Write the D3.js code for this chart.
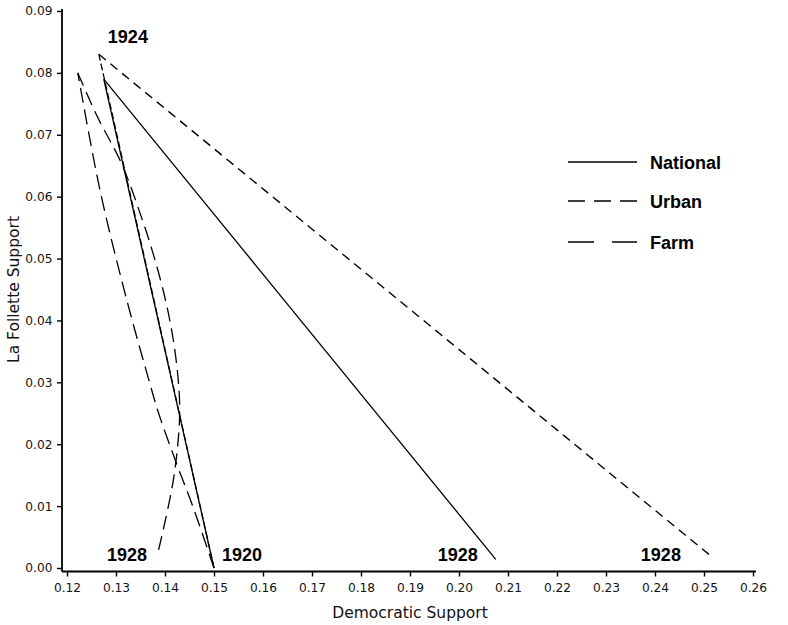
<!DOCTYPE html>
<html>
<head>
<meta charset="utf-8">
<script src="https://cdn.jsdelivr.net/npm/d3@7"></script>
<style>
  html, body { margin: 0; padding: 0; background: #fff; }
  svg { display: block; }
  .tick text { font-family: "DejaVu Sans", sans-serif; font-size: 12.2px; fill: #111; }
  .axis-title { font-family: "DejaVu Sans", sans-serif; font-size: 15.5px; fill: #111; }
  .year, .legend-label { font-family: "Liberation Sans", Arial, sans-serif; font-weight: bold; font-size: 18px; fill: #000; }
</style>
</head>
<body>
<svg id="chart" width="788" height="625"></svg>
<script>
// Election years and the Democratic / La Follette shares for each group
const years = [1920, 1924, 1928];
const nationalDem = [0.150, 0.1275, 0.2075];
const nationalLaF = [0.000, 0.0790, 0.0014];
const urbanDem = [0.150, 0.1265, 0.2510];
const urbanLaF = [0.000, 0.0830, 0.0022];
const farmDem = [0.150, 0.1222, 0.1386];
const farmLaF = [0.000, 0.0800, 0.0026];

// The farm path bends between elections; intermediate positions along each leg
const farmLeg1Dem = [0.1500, 0.1457, 0.1423, 0.1387, 0.1367, 0.1322, 0.1268, 0.1222];
const farmLeg1LaF = [0.0000, 0.0099, 0.0170, 0.0250, 0.0304, 0.0433, 0.0608, 0.0800];
const farmLeg2Dem = [0.1222, 0.1262, 0.1311, 0.1354, 0.1378, 0.1401, 0.1417, 0.1427, 0.1430, 0.1427, 0.1417, 0.1401, 0.1386];
const farmLeg2LaF = [0.0800, 0.0729, 0.0654, 0.0562, 0.0502, 0.0433, 0.0368, 0.0304, 0.0255, 0.0207, 0.0142, 0.0078, 0.0026];

// Axis ticks
const xTicks = [0.12, 0.13, 0.14, 0.15, 0.16, 0.17, 0.18, 0.19, 0.20, 0.21, 0.22, 0.23, 0.24, 0.25, 0.26];
const yTicks = [0.00, 0.01, 0.02, 0.03, 0.04, 0.05, 0.06, 0.07, 0.08, 0.09];

const seriesNames = ["National", "Urban", "Farm"];

const svg = d3.select("#chart");

const x = d3.scaleLinear().domain([0.12, 0.26]).range([67, 753]);
const y = d3.scaleLinear().domain([0, 0.09]).range([568, 11]);

const fmt = d3.format(".2f");

// Axes sit slightly outside the data region
const xAxisY = y(0) + 3.5;
const yAxisX = x(0.12) - 5;

const gx = svg.append("g")
  .attr("transform", `translate(0,${xAxisY})`)
  .call(d3.axisBottom(x).tickValues(xTicks).tickFormat(fmt).tickSize(5).tickPadding(6.5).tickSizeOuter(0));
gx.select(".domain").remove();
gx.selectAll(".tick line").attr("stroke", "#000").attr("stroke-width", 1.4);

const gy = svg.append("g")
  .attr("transform", `translate(${yAxisX},0)`)
  .call(d3.axisLeft(y).tickValues(yTicks).tickFormat(fmt).tickSize(5).tickPadding(4.5).tickSizeOuter(0));
gy.select(".domain").remove();
gy.selectAll(".tick line").attr("stroke", "#000").attr("stroke-width", 1.4);

// Axis lines
svg.append("line")
  .attr("x1", yAxisX).attr("x2", x(0.26) + 3)
  .attr("y1", xAxisY).attr("y2", xAxisY)
  .attr("stroke", "#000").attr("stroke-width", 1.8);
svg.append("line")
  .attr("x1", yAxisX).attr("x2", yAxisX)
  .attr("y1", y(0.09) - 2).attr("y2", xAxisY)
  .attr("stroke", "#000").attr("stroke-width", 1.8);

// Axis titles
svg.append("text").attr("class", "axis-title")
  .attr("x", (x(0.12) + x(0.26)) / 2).attr("y", 618)
  .attr("text-anchor", "middle")
  .text("Democratic Support");
svg.append("text").attr("class", "axis-title")
  .attr("transform", `translate(19,${y(0.045)}) rotate(-90)`)
  .attr("text-anchor", "middle")
  .text("La Follette Support");

const straight = d3.line().x(d => x(d[0])).y(d => y(d[1]));
const smooth = d3.line().x(d => x(d[0])).y(d => y(d[1])).curve(d3.curveCatmullRom.alpha(0.5));

const zip = (a, b) => a.map((v, i) => [v, b[i]]);

// National: solid path through the three elections
svg.append("path")
  .datum(zip(nationalDem, nationalLaF))
  .attr("d", straight)
  .attr("fill", "none").attr("stroke", "#000").attr("stroke-width", 1.3);

// Urban: short dashes
const urbanPts = zip(urbanDem, urbanLaF);
svg.append("path")
  .datum(urbanPts.slice(0, 2))
  .attr("d", straight)
  .attr("fill", "none").attr("stroke", "#000").attr("stroke-width", 1.3)
  .attr("stroke-dasharray", "7,3");
svg.append("path")
  .datum(urbanPts.slice(1, 3))
  .attr("d", straight)
  .attr("fill", "none").attr("stroke", "#000").attr("stroke-width", 1.4)
  .attr("stroke-dasharray", "9,6");

// Farm: long dashes along the bending legs
svg.append("path")
  .datum(zip(farmLeg1Dem, farmLeg1LaF))
  .attr("d", smooth)
  .attr("fill", "none").attr("stroke", "#000").attr("stroke-width", 1.3)
  .attr("stroke-dasharray", "15,7");
svg.append("path")
  .datum(zip(farmLeg2Dem, farmLeg2LaF))
  .attr("d", smooth)
  .attr("fill", "none").attr("stroke", "#000").attr("stroke-width", 1.3)
  .attr("stroke-dasharray", "14,7");

// Year labels
const yearLabels = [
  { text: String(years[1]), px: x(urbanDem[1]) + 9, py: y(urbanLaF[1]) - 11, anchor: "start" },
  { text: String(years[0]), px: x(nationalDem[0]) + 8, py: y(0) - 7, anchor: "start" },
  { text: String(years[2]), px: x(farmDem[2]) - 11, py: y(0) - 7, anchor: "end" },
  { text: String(years[2]), px: x(nationalDem[2]) - 18, py: y(0) - 7, anchor: "end" },
  { text: String(years[2]), px: x(urbanDem[2]) - 28, py: y(0) - 7, anchor: "end" }
];
svg.selectAll("text.year").data(yearLabels).enter().append("text")
  .attr("class", "year")
  .attr("x", d => d.px).attr("y", d => d.py)
  .attr("text-anchor", d => d.anchor)
  .text(d => d.text);

// Legend
const legendDash = [null, "17,9", "26,18"];
const legendY = [162, 201, 242];
const lg = svg.append("g");
seriesNames.forEach((name, i) => {
  lg.append("line")
    .attr("x1", 568).attr("x2", 637)
    .attr("y1", legendY[i]).attr("y2", legendY[i])
    .attr("stroke", "#000").attr("stroke-width", 1.3)
    .attr("stroke-dasharray", legendDash[i]);
  lg.append("text").attr("class", "legend-label")
    .attr("x", 650).attr("y", legendY[i] + 7)
    .text(name);
});
</script>
</body>
</html>
